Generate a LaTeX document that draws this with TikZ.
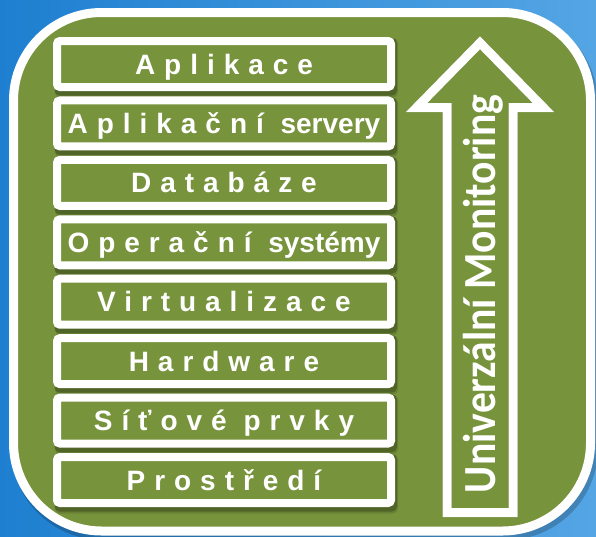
\documentclass[tikz,border=0pt]{standalone}
\usepackage{fontspec}
\usepackage{graphicx}
\setmainfont{Liberation Sans}
\newfontfamily\barsp{Liberation Sans}[LetterSpace=32]
\newfontfamily\barnl{Liberation Sans}
\newfontfamily\arrowfont{Carlito}
\definecolor{panelgreen}{RGB}{119,147,60}
\definecolor{bgleft}{RGB}{30,127,208}
\definecolor{bgright}{RGB}{84,165,228}
\tikzset{
  bar/.style={draw=white, line width=8pt, fill=panelgreen, rounded corners=3pt,
    minimum width=334pt, minimum height=46pt, inner sep=0pt, text=white,
    font=\barsp\bfseries\fontsize{28}{28}\selectfont, text height=20pt, text depth=0pt},
  barshadow/.style={fill=black, opacity=0.22, rounded corners=5pt},
  frame/.style={draw=white, line width=9pt, fill=panelgreen, rounded corners=88pt},
  arrowline/.style={draw=white, line width=9pt, line join=miter},
  arrowshadow/.style={draw=black, opacity=0.28, line width=9pt, line join=miter},
  montext/.style={text=white, rotate=90, anchor=base, inner sep=0pt}
}
\begin{document}
\begin{tikzpicture}[x=1pt,y=-1pt]
\useasboundingbox (0,0) rectangle (596,536);
\shade[left color=bgleft, right color=bgright] (0,0) rectangle (596,536);
% frame
\fill[black, opacity=0.2, rounded corners=92pt] (11,12) rectangle (598,540);
\draw[frame] (13.5,12.5) rectangle (590.5,531);
% bar shadows
\foreach \c in {64,123.43,182.86,242.29,301.71,361.14,420.57,480} {
  \fill[barshadow] ({54.5},{\c-26}) rectangle ({397},{\c+31.5});
  \fill[barshadow, opacity=0.12] ({55},{\c-26}) rectangle ({398},{\c+33.5});
}
% bars
\node[bar] (b1) at (224,64) {Aplikace};
\node[bar] (b2) at (224,123.43) {Aplikační {\barnl\bfseries servery}};
\node[bar] (b3) at (224,182.86) {Databáze};
\node[bar] (b4) at (224,242.29) {Operační {\barnl\bfseries systémy}};
\node[bar] (b5) at (224,301.71) {Virtualizace};
\node[bar] (b6) at (224,361.14) {Hardware};
\node[bar] (b7) at (224,420.57) {Síťové prvky};
\node[bar] (b8) at (224,480) {Prostředí};
% arrow
\coordinate (tip) at (480,42.8);
\coordinate (wr) at (543.4,107.5);
\coordinate (sr) at (513,107.5);
\coordinate (br) at (513,512.5);
\coordinate (bl) at (447,512.5);
\coordinate (sl) at (447,107.5);
\coordinate (wl) at (416.6,107.5);
\draw[arrowshadow, shift={(2,4)}] (tip) -- (wr) -- (sr) -- (br) -- (bl) -- (sl) -- (wl) -- cycle;
\draw[arrowline] (tip) -- (wr) -- (sr) -- (br) -- (bl) -- (sl) -- (wl) -- cycle;
\node[montext] (mon) at (495,294) {\resizebox{398pt}{\height}{\arrowfont\bfseries\fontsize{46}{46}\selectfont Univerzální Monitoring}};
\end{tikzpicture}
\end{document}
